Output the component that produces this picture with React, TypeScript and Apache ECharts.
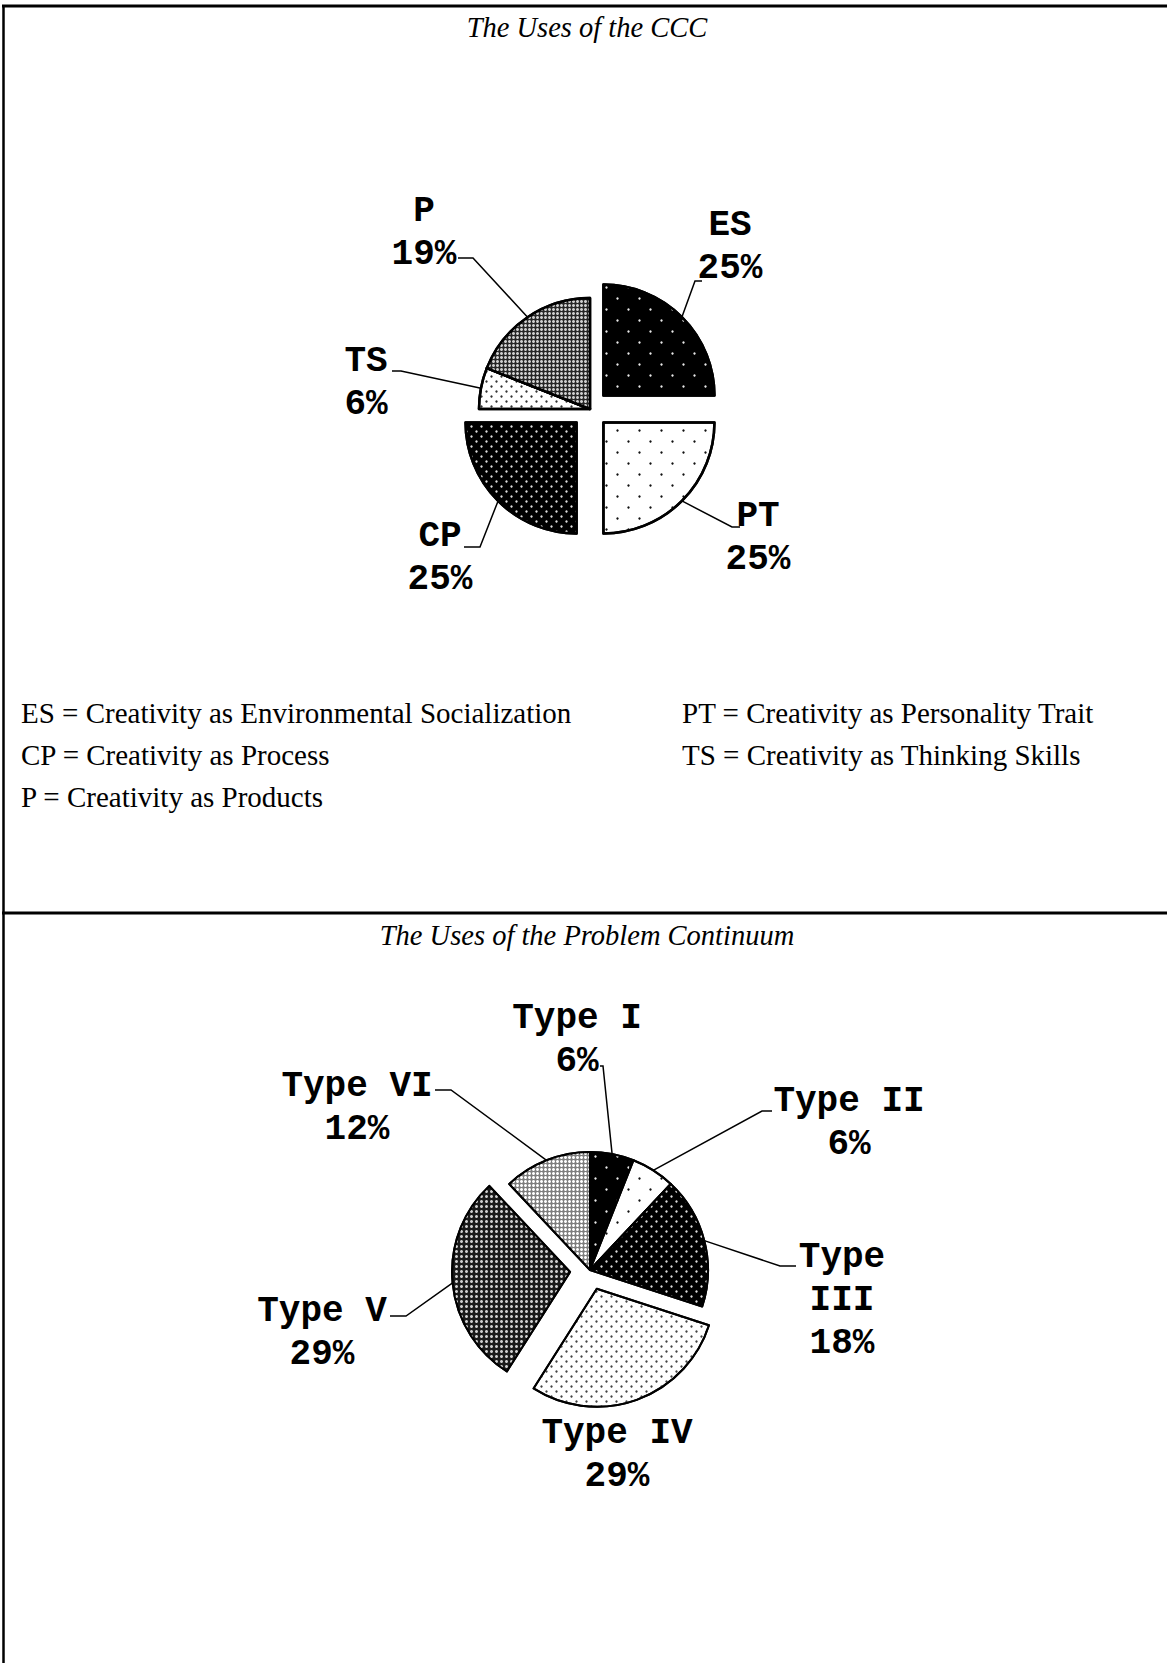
import React, { useEffect, useRef } from 'react';
import * as echarts from 'echarts';

// ---------------- data ----------------
const CCC_TITLE = 'The Uses of the CCC';
const CCC_CATEGORIES = ['ES', 'PT', 'CP', 'TS', 'P'];
const CCC_VALUES = [25, 25, 25, 6, 19];
const CCC_EXPLODED = [true, true, true, false, false];

const PC_TITLE = 'The Uses of the Problem Continuum';
const PC_CATEGORIES = ['Type I', 'Type II', 'Type III', 'Type IV', 'Type V', 'Type VI'];
const PC_VALUES = [6, 6, 18, 29, 29, 12];
const PC_EXPLODED = [false, false, false, true, true, false];

const CCC_NOTES_LEFT = [
  'ES = Creativity as Environmental Socialization',
  'CP = Creativity as Process',
  'P = Creativity as Products',
];
const CCC_NOTES_RIGHT = [
  'PT = Creativity as Personality Trait',
  'TS = Creativity as Thinking Skills',
];
const WRAPPED_LABELS = ['Type III'];

// ---------------- layout / style ----------------
const W = 1167;
const H = 1663;

const PIE1 = { cx: 590, cy: 409, r: 111, offset: 19 };
const PIE2 = { cx: 590, cy: 1270, r: 118, offset: 20 };

// text centre (t), leader elbow (e), leader end (f) relative to pie centre
const PIE1_LABELS = [
  { t: [140, -162], e: [105, -128], f: [112, -128] },
  { t: [168, 129], e: [142, 118], f: [150, 118] },
  { t: [-150, 149], e: [-110, 138], f: [-126, 138] },
  { t: [-224, -26], e: [-189, -38], f: [-198, -38] },
  { t: [-166, -176], e: [-117, -151], f: [-132, -151] },
];
const PIE2_LABELS = [
  { t: [-13, -230], e: [13, -204], f: [10, -204] },
  { t: [259, -147], e: [172, -159], f: [182, -159] },
  { t: [252, 30], e: [190, -4], f: [206, -4] },
  { t: [27, 185], e: [27, 185], f: [27, 185] },
  { t: [-268, 63], e: [-184, 46], f: [-200, 46] },
  { t: [-233, -162], e: [-139, -180], f: [-155, -180] },
];

const dots = (pitch: number, dot: number, color: string) => ({
  symbol: 'circle',
  symbolSize: 0.8,
  color,
  dashArrayX: [[dot, pitch - dot], [0, pitch / 2, dot, pitch / 2 - dot]],
  dashArrayY: [dot, pitch / 2 - dot],
});
const grid = (pitch: number, dot: number, color: string) => ({
  symbol: 'circle',
  symbolSize: 1,
  color,
  dashArrayX: [[dot, pitch - dot]],
  dashArrayY: [dot, pitch - dot],
});

const CCC_STYLES = [
  { color: '#000', decal: dots(22, 3, '#e8e8e8') },
  { color: '#fff', decal: dots(22, 3, '#111') },
  { color: '#000', decal: dots(10, 3, '#dddddd') },
  { color: '#fff', decal: dots(10, 3, '#333') },
  { color: '#262626', decal: grid(4, 3, '#cfcfcf') },
];
const PC_STYLES = [
  { color: '#000', decal: dots(22, 3, '#e8e8e8') },
  { color: '#fff', decal: dots(22, 3, '#111') },
  { color: '#000', decal: dots(10, 3, '#dddddd') },
  { color: '#fff', decal: dots(10, 3, '#444') },
  { color: '#1a1a1a', decal: grid(5, 3, '#cfcfcf') },
  { color: '#7e7e7e', decal: grid(4, 3, '#ffffff') },
];

const LABEL_FONT = {
  fontFamily: 'Liberation Mono',
  fontWeight: 'bold' as const,
  fontSize: 36,
  lineHeight: 43,
  color: '#000',
};
const SERIF = 'Liberation Serif';
const HIDDEN = 'rgba(0,0,0,0)';

function midDir(values: number[], i: number) {
  const total = values.reduce((a, b) => a + b, 0);
  let cum = 0;
  for (let j = 0; j < i; j++) cum += values[j];
  const mid = ((cum + values[i] / 2) / total) * Math.PI * 2;
  return [Math.sin(mid), -Math.cos(mid)];
}

// One pie series; `visible` tells which slices this series draws.
// Exploded slices get their own series whose centre is pushed out along the slice bisector.
function pieSeries(
  categories: string[],
  values: number[],
  styles: any[],
  pie: any,
  labels: any[],
  borderWidth: number,
  noLine: number[],
  visible: boolean[],
  shift: number[]
) {
  const cx = pie.cx + shift[0];
  const cy = pie.cy + shift[1];
  return {
    type: 'pie',
    center: [cx, cy],
    radius: pie.r,
    startAngle: 90,
    clockwise: true,
    avoidLabelOverlap: false,
    emphasis: { disabled: true },
    label: {
      show: true,
      position: 'outside',
      ...LABEL_FONT,
      formatter: (p: any) =>
        `${WRAPPED_LABELS.includes(p.name) ? p.name.replace(' ', '\n') : p.name}\n${p.value}%`,
    },
    labelLine: { show: true, lineStyle: { color: '#000', width: 1.5 } },
    labelLayout: (params: any) => {
      const i = params.dataIndex;
      if (!visible[i]) return {};
      const L = labels[i];
      const d = midDir(values, i);
      return {
        x: pie.cx + L.t[0],
        y: pie.cy + L.t[1],
        align: 'center',
        verticalAlign: 'middle',
        labelLinePoints: [
          [cx + d[0] * pie.r, cy + d[1] * pie.r],
          [pie.cx + L.e[0], pie.cy + L.e[1]],
          [pie.cx + L.f[0], pie.cy + L.f[1]],
        ],
      };
    },
    data: categories.map((name, i) =>
      visible[i]
        ? {
            name,
            value: values[i],
            itemStyle: {
              color: styles[i].color,
              decal: styles[i].decal,
              borderColor: '#000',
              borderWidth,
            },
            labelLine: noLine.includes(i) ? { show: false } : undefined,
          }
        : {
            name,
            value: values[i],
            itemStyle: { color: HIDDEN, borderWidth: 0 },
            label: { show: false },
            labelLine: { show: false },
          }
    ),
  };
}

function explodedPie(
  categories: string[],
  values: number[],
  exploded: boolean[],
  styles: any[],
  pie: any,
  labels: any[],
  borderWidth: number,
  noLine: number[]
) {
  const list: any[] = [
    pieSeries(categories, values, styles, pie, labels, borderWidth, noLine, exploded.map((e) => !e), [0, 0]),
  ];
  exploded.forEach((e, i) => {
    if (!e) return;
    const d = midDir(values, i);
    list.push(
      pieSeries(
        categories,
        values,
        styles,
        pie,
        labels,
        borderWidth,
        noLine,
        exploded.map((_, j) => j === i),
        [d[0] * pie.offset, d[1] * pie.offset]
      )
    );
  });
  return list;
}

export default function App() {
  const ref = useRef<HTMLDivElement>(null);

  useEffect(() => {
    if (!ref.current) return;
    const chart = echarts.init(ref.current, undefined, { renderer: 'svg' });

    const noteStyle = (t: string) => ({
      text: t,
      fontFamily: SERIF,
      fontSize: 29,
      fill: '#000',
      verticalAlign: 'middle',
    });
    const notes: any[] = [];
    CCC_NOTES_LEFT.forEach((t, i) => notes.push({ type: 'text', x: 21, y: 713 + i * 42, style: noteStyle(t) }));
    CCC_NOTES_RIGHT.forEach((t, i) => notes.push({ type: 'text', x: 682, y: 713 + i * 42, style: noteStyle(t) }));

    const titleStyle = {
      fontFamily: SERIF,
      fontStyle: 'italic',
      fontWeight: 'normal',
      fontSize: 28.5,
      color: '#000',
    };

    const option: any = {
      animation: false,
      backgroundColor: '#fff',
      title: [
        { text: CCC_TITLE, left: 587, top: 13, textAlign: 'center', padding: 0, textStyle: titleStyle },
        { text: PC_TITLE, left: 587, top: 921, textAlign: 'center', padding: 0, textStyle: titleStyle },
      ],
      graphic: [
        { type: 'line', shape: { x1: 2, y1: 6, x2: W, y2: 6 }, style: { stroke: '#000', lineWidth: 3 } },
        { type: 'line', shape: { x1: 3.5, y1: 5, x2: 3.5, y2: H }, style: { stroke: '#000', lineWidth: 2.5 } },
        { type: 'line', shape: { x1: 2, y1: 913, x2: W, y2: 913 }, style: { stroke: '#000', lineWidth: 3 } },
        ...notes,
      ],
      series: [
        ...explodedPie(CCC_CATEGORIES, CCC_VALUES, CCC_EXPLODED, CCC_STYLES, PIE1, PIE1_LABELS, 2.5, []),
        ...explodedPie(PC_CATEGORIES, PC_VALUES, PC_EXPLODED, PC_STYLES, PIE2, PIE2_LABELS, 2, [3]),
      ],
    };
    chart.setOption(option);
    return () => chart.dispose();
  }, []);

  return (
    <div
      ref={ref}
      style={{ position: 'absolute', left: 0, top: 0, width: W, height: H, background: '#fff' }}
    />
  );
}
